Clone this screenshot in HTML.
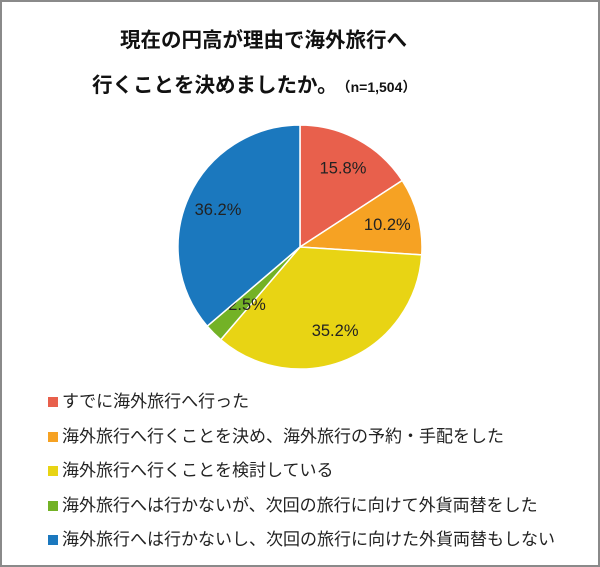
<!DOCTYPE html>
<html><head><meta charset="utf-8"><style>
body{margin:0;width:600px;height:567px;overflow:hidden;background:#fff;font-family:"Liberation Sans","Noto Sans CJK JP",sans-serif}
#frame{position:absolute;left:0;top:0;width:596px;height:563px;border:2px solid #8a8a8a}
.t{position:absolute;font-weight:bold;color:#111;white-space:nowrap}
.leg{position:absolute;left:48px;font-size:17px;color:#222;white-space:nowrap;line-height:20px}
.leg i{display:inline-block;width:10px;height:10px;margin-right:4px;vertical-align:0px}
</style></head><body>
<div id="frame"></div>
<div class="t" style="left:120px;top:23px;font-size:20.5px">現在の円高が理由で海外旅行へ</div>
<div class="t" style="left:92px;top:68px;font-size:20.5px">行くことを決めましたか。<span style="font-size:14px;margin-left:6px">（n=1,504）</span></div>
<svg id="pie" width="600" height="567" style="position:absolute;left:0;top:0"></svg>
<div id="legend"></div>
<script>
const categories=["すでに海外旅行へ行った","海外旅行へ行くことを決め、海外旅行の予約・手配をした","海外旅行へ行くことを検討している","海外旅行へは行かないが、次回の旅行に向けて外貨両替をした","海外旅行へは行かないし、次回の旅行に向けた外貨両替もしない"];
const values=[15.8,10.2,35.2,2.5,36.2];
const colors=["#E8604C","#F6A223","#E8D414","#73B226","#1B78BE"];
const cx=300,cy=247,r=122;
const svg=document.getElementById('pie');const NS="http://www.w3.org/2000/svg";
const total=values.reduce((a,b)=>a+b,0);
let a0=0;
values.forEach((v,i)=>{
  const a1=a0+v/total*2*Math.PI;
  const p=(a)=>[cx+r*Math.sin(a),cy-r*Math.cos(a)];
  const [x0,y0]=p(a0),[x1,y1]=p(a1);
  const path=document.createElementNS(NS,'path');
  path.setAttribute('d',`M${cx},${cy}L${x0},${y0}A${r},${r} 0 ${a1-a0>Math.PI?1:0} 1 ${x1},${y1}Z`);
  path.setAttribute('fill',colors[i]);path.setAttribute('stroke','#fff');path.setAttribute('stroke-width','1.5');
  
  
  svg.appendChild(path);
  const am=(a0+a1)/2;const lr=i==3?r*0.66:r*0.74;
  const t=document.createElementNS(NS,'text');
  t.setAttribute('x',cx+lr*Math.sin(am)+(i==3?4:0));t.setAttribute('y',cy-lr*Math.cos(am)+6);
  t.setAttribute('text-anchor','middle');t.setAttribute('font-size','16.5');t.setAttribute('fill','#222');
  t.setAttribute('font-family','Liberation Sans, sans-serif');
  t.textContent=v.toFixed(1)+'%';
  
  
  svg.appendChild(t);
  a0=a1;
});
const leg=document.getElementById('legend');
categories.forEach((c,i)=>{
  const d=document.createElement('div');d.className='leg';d.style.top=(392+i*34.5)+'px';
  d.innerHTML='<i style="background:'+colors[i]+'"></i>'+c;
  
  
  leg.appendChild(d);
});
</script>
</body></html>
